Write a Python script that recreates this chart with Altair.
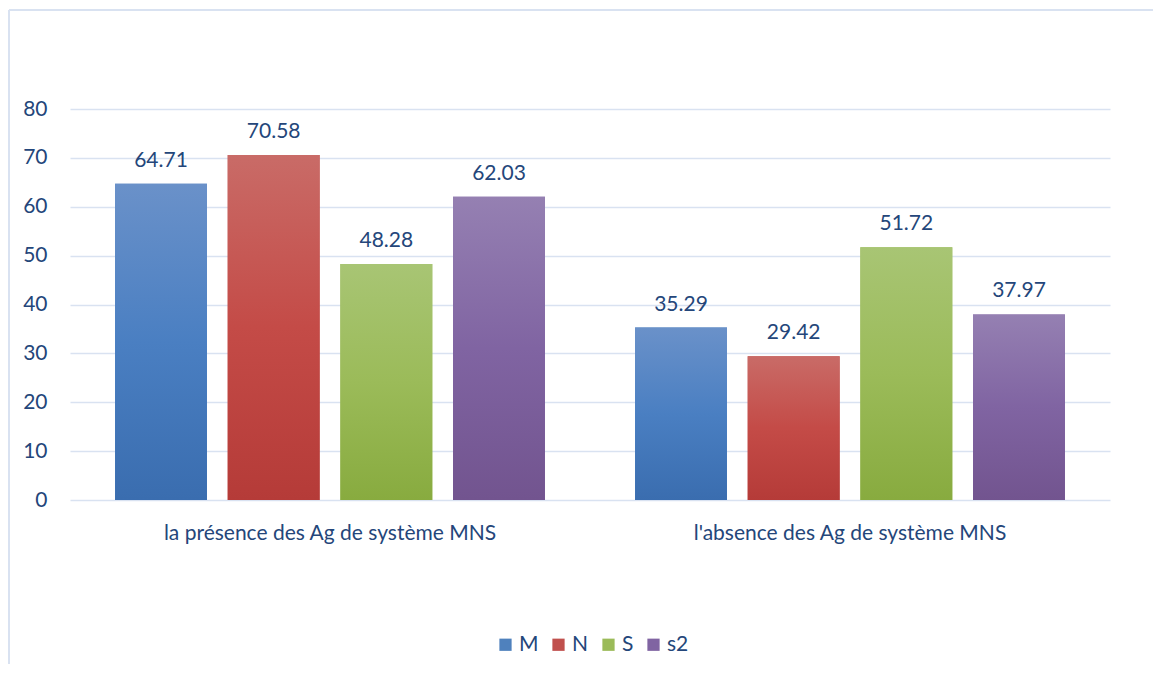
import altair as alt
import pandas as pd

categories = ["la présence des Ag de système MNS", "l'absence des Ag de système MNS"]
series = ["M", "N", "S", "s2"]
presence = [64.71, 70.58, 48.28, 62.03]
absence = [35.29, 29.42, 51.72, 37.97]
y_ticks = [0, 10, 20, 30, 40, 50, 60, 70, 80]

base_colors = ["#4F81BD", "#C0504D", "#9BBB59", "#8064A2"]
grad_stops = {
    "M": ["#6A91C9", "#4A7FC2", "#3A6DAF"],
    "N": ["#C96B67", "#C44B47", "#B53B38"],
    "S": ["#A8C574", "#9BBB59", "#88AB3F"],
    "s2": ["#9580B2", "#8064A2", "#72548F"],
}
TEXT = "#24467A"
FONT = "Lato"
FS = 21

rows = []
for cat, vals in zip(categories, [presence, absence]):
    for s, v in zip(series, vals):
        rows.append({"cat": cat, "serie": s, "val": v})
df = pd.DataFrame(rows)

W, H = 1040, 391

x_enc = alt.X("cat:N", sort=categories, title=None,
              scale=alt.Scale(paddingInner=0, paddingOuter=0),
              axis=alt.Axis(labelFontSize=FS, labelColor=TEXT, labelFont=FONT,
                            labelPadding=22, ticks=False, tickSize=0, domain=False,
                            labelAngle=0, grid=False, labelLimit=0))
xo_enc = alt.XOffset("serie:N", sort=series,
                     scale=alt.Scale(domain=series, paddingInner=0.184, paddingOuter=0.4))
y_enc = alt.Y("val:Q", title=None,
              scale=alt.Scale(domain=[0, 80], nice=False),
              axis=alt.Axis(values=y_ticks, labelFontSize=FS, labelColor=TEXT, labelFont=FONT,
                            labelPadding=23, ticks=False, tickSize=0, domain=False,
                            grid=True, gridColor="#D9E2F1", gridWidth=1.5))

base = alt.Chart(df).mark_bar().encode(
    x=x_enc, xOffset=xo_enc, y=y_enc,
    color=alt.Color("serie:N", sort=series,
                    scale=alt.Scale(domain=series, range=base_colors),
                    legend=alt.Legend(title=None, orient="none", direction="horizontal",
                                      legendX=425, legendY=525, symbolType="square",
                                      symbolSize=150, symbolStrokeWidth=0,
                                      labelFontSize=FS, labelColor=TEXT, labelFont=FONT,
                                      columnPadding=9, labelOffset=3)),
)

layers = [base]
for s in series:
    st = grad_stops[s]
    grad = {"gradient": "linear", "x1": 0, "y1": 0, "x2": 0, "y2": 1,
            "stops": [{"offset": 0, "color": st[0]},
                      {"offset": 0.5, "color": st[1]},
                      {"offset": 1, "color": st[2]}]}
    layers.append(
        alt.Chart(df).transform_filter(alt.datum.serie == s)
        .mark_bar(color=grad)
        .encode(x=x_enc, xOffset=xo_enc, y=y_enc)
    )

labels = alt.Chart(df).mark_text(dy=-17, baseline="alphabetic", fontSize=FS,
                                 color=TEXT, font=FONT).encode(
    x=x_enc, xOffset=xo_enc, y=y_enc, text=alt.Text("val:Q", format=".2f"))
layers.append(labels)

frame_left = alt.Chart(df).mark_rule(color="#D9E2F1", strokeWidth=1.5).encode(
    x=alt.value(-61), y=alt.value(-99), y2=alt.value(700))
frame_top = alt.Chart(df).mark_rule(color="#D9E2F1", strokeWidth=1.5).encode(
    x=alt.value(-61), x2=alt.value(1100), y=alt.value(-99))
layers += [frame_left, frame_top]

chart = alt.layer(*layers).properties(
    width=W, height=H,
    background="white",
    autosize=alt.AutoSizeParams(type="none"),
    padding={"left": 62, "top": 101, "right": 43, "bottom": 164},
).configure_view(strokeOpacity=0, strokeWidth=0)

chart.save("out.html", embed_options={"renderer": "svg", "actions": False})
